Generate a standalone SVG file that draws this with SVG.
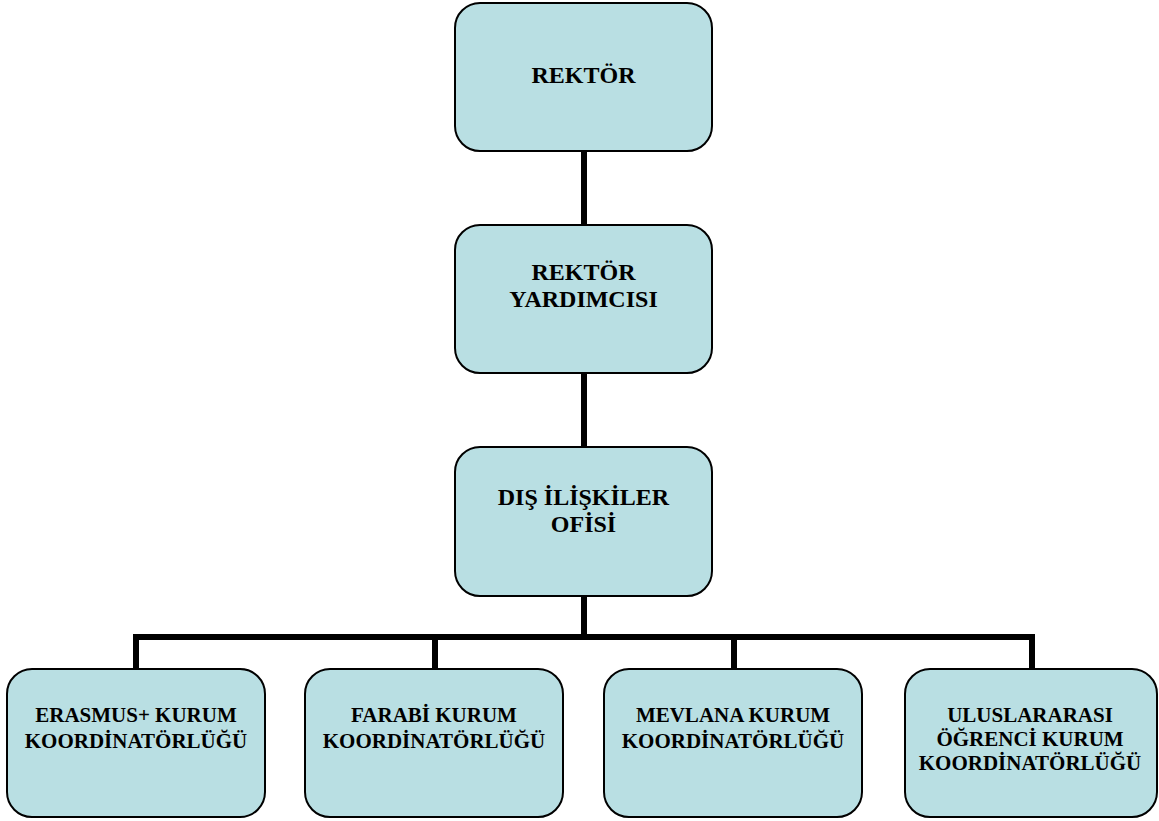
<svg xmlns="http://www.w3.org/2000/svg" width="1159" height="821" viewBox="0 0 1159 821">
<style>
.box{fill:#B9DFE3;stroke:#000;stroke-width:2}
.t{font-family:"Liberation Serif","Times New Roman",serif;font-weight:bold;fill:#000;text-anchor:middle}
.big{font-size:24px}
.sm{font-size:21px}
.c{stroke:#000;stroke-width:6;fill:none;stroke-linecap:butt}
</style>
<rect width="1159" height="821" fill="#fff"/>
<g id="connectors">
<line class="c" x1="584" y1="151" x2="584" y2="225"/>
<line class="c" x1="584" y1="373" x2="584" y2="447"/>
<line class="c" x1="584" y1="596" x2="584" y2="637"/>
<polyline class="c" points="136,669 136,637 1032,637 1032,669"/>
<line class="c" x1="435" y1="637" x2="435" y2="669"/>
<line class="c" x1="734" y1="637" x2="734" y2="669"/>
</g>
<g id="rektor">
<rect class="box" x="455" y="3" width="257" height="148" rx="25"/>
<text class="t big" x="583.5" y="83">REKTÖR</text>
</g>
<g id="rektor-yardimcisi">
<rect class="box" x="455" y="225" width="257" height="148" rx="25"/>
<text class="t big" x="583.5" y="280">REKTÖR</text>
<text class="t big" x="583.5" y="307">YARDIMCISI</text>
</g>
<g id="dis-iliskiler">
<rect class="box" x="455" y="447" width="257" height="149" rx="25"/>
<text class="t big" x="583.5" y="505">DIŞ İLİŞKİLER</text>
<text class="t big" x="583.5" y="532">OFİSİ</text>
</g>
<g id="erasmus">
<rect class="box" x="7" y="669" width="258" height="148" rx="25"/>
<text class="t sm" x="136" y="722">ERASMUS+ KURUM</text>
<text class="t sm" x="136" y="748">KOORDİNATÖRLÜĞÜ</text>
</g>
<g id="farabi">
<rect class="box" x="305" y="669" width="258" height="148" rx="25"/>
<text class="t sm" x="434" y="722">FARABİ KURUM</text>
<text class="t sm" x="434" y="748">KOORDİNATÖRLÜĞÜ</text>
</g>
<g id="mevlana">
<rect class="box" x="604" y="669" width="258" height="148" rx="25"/>
<text class="t sm" x="733" y="722">MEVLANA KURUM</text>
<text class="t sm" x="733" y="748">KOORDİNATÖRLÜĞÜ</text>
</g>
<g id="uluslararasi">
<rect class="box" x="905" y="669" width="252" height="148" rx="25"/>
<text class="t sm" x="1030" y="722">ULUSLARARASI</text>
<text class="t sm" x="1030" y="746">ÖĞRENCİ KURUM</text>
<text class="t sm" x="1030" y="770">KOORDİNATÖRLÜĞÜ</text>
</g>
</svg>
